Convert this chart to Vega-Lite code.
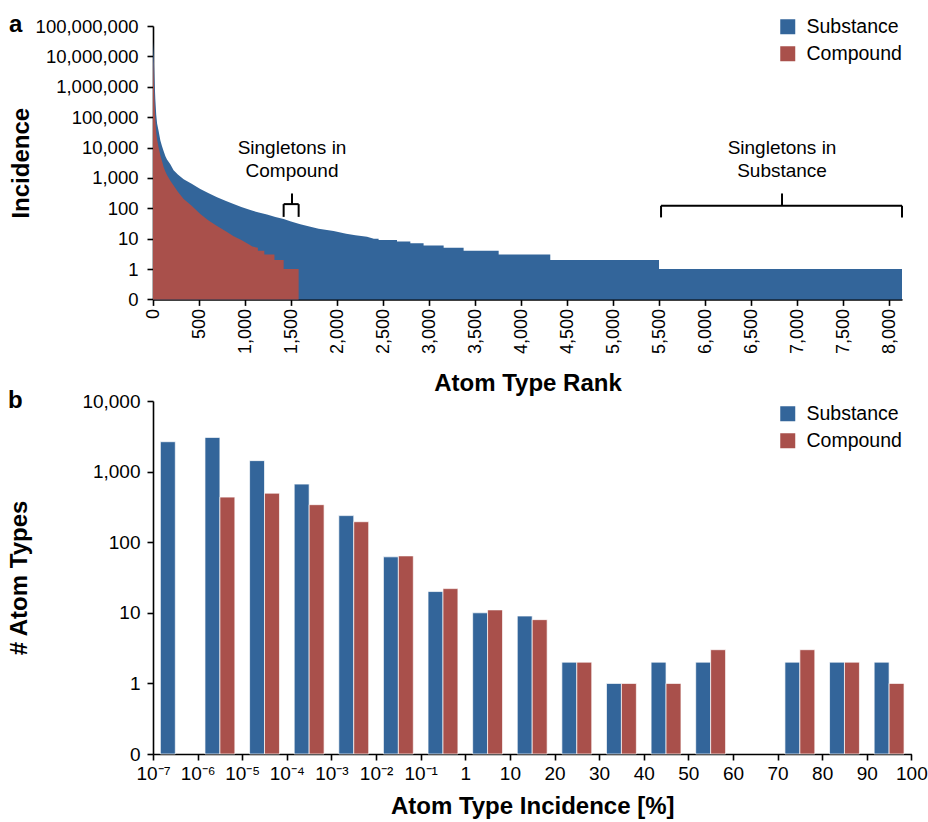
{
  "$schema": "https://vega.github.io/schema/vega-lite/v6.json",
  "padding": {"top": 13, "left": 7, "right": 5, "bottom": 5},
  "background": "white",
  "config": {
    "font": "Liberation Sans",
    "view": {"stroke": null},
    "axis": {
      "domainColor": "black", "domainWidth": 1.6,
      "tickColor": "black", "tickWidth": 1.6, "tickSize": 6,
      "labelColor": "black", "labelFont": "Liberation Sans", "labelFontSize": 18.5,
      "titleFont": "Liberation Sans", "titleFontSize": 24, "titleFontWeight": "bold", "titleColor": "black",
      "grid": false
    },
    "legend": {
      "symbolType": "square", "symbolSize": 225, "symbolStrokeWidth": 0,
      "labelFont": "Liberation Sans", "labelFontSize": 19.5, "labelColor": "black",
      "rowPadding": 6, "labelOffset": 9, "padding": 0
    },
    "title": {"font": "Liberation Sans", "fontSize": 24, "fontWeight": "bold", "color": "black"}
  },
  "datasets": {
    "rank": [
      {"series": "Substance", "rank": 0, "value": 30000000},
      {"series": "Substance", "rank": 8, "value": 10000000},
      {"series": "Substance", "rank": 16, "value": 2000000},
      {"series": "Substance", "rank": 25, "value": 400000},
      {"series": "Substance", "rank": 35, "value": 120000},
      {"series": "Substance", "rank": 45, "value": 60000},
      {"series": "Substance", "rank": 61, "value": 35000},
      {"series": "Substance", "rank": 80, "value": 17000},
      {"series": "Substance", "rank": 98, "value": 11000},
      {"series": "Substance", "rank": 115, "value": 7700},
      {"series": "Substance", "rank": 135, "value": 5200},
      {"series": "Substance", "rank": 152, "value": 4000},
      {"series": "Substance", "rank": 188, "value": 2800},
      {"series": "Substance", "rank": 224, "value": 1800},
      {"series": "Substance", "rank": 270, "value": 1300},
      {"series": "Substance", "rank": 333, "value": 900},
      {"series": "Substance", "rank": 420, "value": 640},
      {"series": "Substance", "rank": 514, "value": 430},
      {"series": "Substance", "rank": 600, "value": 320},
      {"series": "Substance", "rank": 696, "value": 230},
      {"series": "Substance", "rank": 800, "value": 170},
      {"series": "Substance", "rank": 876, "value": 138},
      {"series": "Substance", "rank": 960, "value": 110},
      {"series": "Substance", "rank": 1058, "value": 87},
      {"series": "Substance", "rank": 1150, "value": 72},
      {"series": "Substance", "rank": 1239, "value": 62},
      {"series": "Substance", "rank": 1330, "value": 52},
      {"series": "Substance", "rank": 1420, "value": 44},
      {"series": "Substance", "rank": 1500, "value": 37},
      {"series": "Substance", "rank": 1601, "value": 30},
      {"series": "Substance", "rank": 1700, "value": 25},
      {"series": "Substance", "rank": 1800, "value": 21},
      {"series": "Substance", "rank": 1963, "value": 18},
      {"series": "Substance", "rank": 2100, "value": 14.5},
      {"series": "Substance", "rank": 2200, "value": 13},
      {"series": "Substance", "rank": 2326, "value": 11.5},
      {"series": "Substance", "rank": 2400, "value": 10},
      {"series": "Substance", "rank": 2452, "value": 10},
      {"series": "Substance", "rank": 2452, "value": 9},
      {"series": "Substance", "rank": 2652, "value": 9},
      {"series": "Substance", "rank": 2652, "value": 8},
      {"series": "Substance", "rank": 2797, "value": 8},
      {"series": "Substance", "rank": 2797, "value": 7},
      {"series": "Substance", "rank": 2941, "value": 7},
      {"series": "Substance", "rank": 2941, "value": 6},
      {"series": "Substance", "rank": 3159, "value": 6},
      {"series": "Substance", "rank": 3159, "value": 5},
      {"series": "Substance", "rank": 3376, "value": 5},
      {"series": "Substance", "rank": 3376, "value": 4},
      {"series": "Substance", "rank": 3757, "value": 4},
      {"series": "Substance", "rank": 3757, "value": 3},
      {"series": "Substance", "rank": 4318, "value": 3},
      {"series": "Substance", "rank": 4318, "value": 2},
      {"series": "Substance", "rank": 5500, "value": 2},
      {"series": "Substance", "rank": 5500, "value": 1},
      {"series": "Substance", "rank": 8141, "value": 1},
      {"series": "Compound", "rank": 0, "value": 12000000},
      {"series": "Compound", "rank": 8, "value": 2000000},
      {"series": "Compound", "rank": 16, "value": 300000},
      {"series": "Compound", "rank": 25, "value": 80000},
      {"series": "Compound", "rank": 35, "value": 30000},
      {"series": "Compound", "rank": 45, "value": 18000},
      {"series": "Compound", "rank": 61, "value": 10000},
      {"series": "Compound", "rank": 80, "value": 5500},
      {"series": "Compound", "rank": 98, "value": 3500},
      {"series": "Compound", "rank": 115, "value": 2300},
      {"series": "Compound", "rank": 135, "value": 1600},
      {"series": "Compound", "rank": 152, "value": 1250},
      {"series": "Compound", "rank": 188, "value": 800},
      {"series": "Compound", "rank": 224, "value": 560},
      {"series": "Compound", "rank": 270, "value": 350},
      {"series": "Compound", "rank": 333, "value": 200},
      {"series": "Compound", "rank": 420, "value": 120},
      {"series": "Compound", "rank": 514, "value": 65},
      {"series": "Compound", "rank": 600, "value": 40},
      {"series": "Compound", "rank": 696, "value": 26},
      {"series": "Compound", "rank": 800, "value": 17},
      {"series": "Compound", "rank": 876, "value": 12},
      {"series": "Compound", "rank": 960, "value": 9},
      {"series": "Compound", "rank": 1040, "value": 6.5},
      {"series": "Compound", "rank": 1080, "value": 5.5},
      {"series": "Compound", "rank": 1140, "value": 5},
      {"series": "Compound", "rank": 1140, "value": 4},
      {"series": "Compound", "rank": 1210, "value": 4},
      {"series": "Compound", "rank": 1210, "value": 3},
      {"series": "Compound", "rank": 1320, "value": 3},
      {"series": "Compound", "rank": 1320, "value": 2},
      {"series": "Compound", "rank": 1420, "value": 2},
      {"series": "Compound", "rank": 1420, "value": 1},
      {"series": "Compound", "rank": 1583, "value": 1}
    ],
    "brace": [
      {"rank": 1420, "rank2": 1583, "value": 137, "value2": 137},
      {"rank": 1420, "rank2": 1420, "value": 52, "value2": 137},
      {"rank": 1583, "rank2": 1583, "value": 52, "value2": 137},
      {"rank": 1511, "rank2": 1511, "value": 137, "value2": 307},
      {"rank": 5522, "rank2": 8141, "value": 121, "value2": 121},
      {"rank": 5522, "rank2": 5522, "value": 50, "value2": 121},
      {"rank": 8141, "rank2": 8141, "value": 50, "value2": 121},
      {"rank": 6837, "rank2": 6837, "value": 121, "value2": 307}
    ],
    "notes": [
      {"text": "Singletons in\nCompound", "rank": 1511, "value": 10000},
      {"text": "Singletons in\nSubstance", "rank": 6837, "value": 10000}
    ],
    "hist": [
      {"bin": 0, "series": "Substance", "count": 2650},
      {"bin": 1, "series": "Substance", "count": 3050},
      {"bin": 1, "series": "Compound", "count": 435},
      {"bin": 2, "series": "Substance", "count": 1430},
      {"bin": 2, "series": "Compound", "count": 495},
      {"bin": 3, "series": "Substance", "count": 665},
      {"bin": 3, "series": "Compound", "count": 340},
      {"bin": 4, "series": "Substance", "count": 238},
      {"bin": 4, "series": "Compound", "count": 195},
      {"bin": 5, "series": "Substance", "count": 62},
      {"bin": 5, "series": "Compound", "count": 64},
      {"bin": 6, "series": "Substance", "count": 20},
      {"bin": 6, "series": "Compound", "count": 22},
      {"bin": 7, "series": "Substance", "count": 10},
      {"bin": 7, "series": "Compound", "count": 11},
      {"bin": 8, "series": "Substance", "count": 9},
      {"bin": 8, "series": "Compound", "count": 8},
      {"bin": 9, "series": "Substance", "count": 2},
      {"bin": 9, "series": "Compound", "count": 2},
      {"bin": 10, "series": "Substance", "count": 1},
      {"bin": 10, "series": "Compound", "count": 1},
      {"bin": 11, "series": "Substance", "count": 2},
      {"bin": 11, "series": "Compound", "count": 1},
      {"bin": 12, "series": "Substance", "count": 2},
      {"bin": 12, "series": "Compound", "count": 3},
      {"bin": 14, "series": "Substance", "count": 2},
      {"bin": 14, "series": "Compound", "count": 3},
      {"bin": 15, "series": "Substance", "count": 2},
      {"bin": 15, "series": "Compound", "count": 2},
      {"bin": 16, "series": "Substance", "count": 2},
      {"bin": 16, "series": "Compound", "count": 1}
    ]
  },
  "resolve": {"legend": {"color": "independent"}, "scale": {"color": "independent"}},
  "spacing": -7,
  "vconcat": [
    {
      "width": 749,
      "height": 273.4,
      "title": {"text": "a", "anchor": "start", "frame": "bounds", "baseline": "alphabetic", "offset": -39},
      "encoding": {
        "x": {
          "field": "rank", "type": "quantitative",
          "scale": {"domain": [0, 8141], "nice": false, "zero": false},
          "axis": {
            "title": "Atom Type Rank",
            "values": [0, 500, 1000, 1500, 2000, 2500, 3000, 3500, 4000, 4500, 5000, 5500, 6000, 6500, 7000, 7500, 8000],
            "labelExpr": "format(datum.value, ',')", "labelFontSize": 18, "labelAngle": -90, "labelPadding": 3, "titlePadding": 18, "labelFlush": false, "labelOverlap": false
          }
        },
        "y": {
          "field": "value", "type": "quantitative",
          "scale": {"type": "log", "domain": [0.1, 100000000], "nice": false},
          "axis": {
            "title": "Incidence",
            "values": [0.1, 1, 10, 100, 1000, 10000, 100000, 1000000, 10000000, 100000000],
            "labelExpr": "datum.value < 0.5 ? '0' : format(datum.value, ',')",
            "labelPadding": 9, "titlePadding": 2, "labelFlush": false, "labelOverlap": false
          }
        }
      },
      "layer": [
        {
          "data": {"name": "rank"},
          "transform": [{"filter": "datum.series === 'Substance'"}],
          "mark": {"type": "area", "interpolate": "linear"},
          "encoding": {
            "y2": {"datum": 0.1},
            "color": {
              "field": "series", "type": "nominal",
              "scale": {"domain": ["Substance", "Compound"], "range": ["#33659A", "#A9504B"]},
              "legend": {"title": null, "orient": "none", "legendX": 625, "legendY": -9}
            }
          }
        },
        {
          "data": {"name": "rank"},
          "transform": [{"filter": "datum.series === 'Compound'"}],
          "mark": {"type": "area", "interpolate": "linear"},
          "encoding": {
            "y2": {"datum": 0.1},
            "color": {
              "field": "series", "type": "nominal",
              "scale": {"domain": ["Substance", "Compound"], "range": ["#33659A", "#A9504B"]},
              "legend": {"title": null, "orient": "none", "legendX": 625, "legendY": -9}
            }
          }
        },
        {
          "data": {"name": "brace"},
          "mark": {"type": "rule", "color": "black", "strokeWidth": 2},
          "encoding": {
            "x2": {"field": "rank2"},
            "y2": {"field": "value2"}
          }
        },
        {
          "data": {"name": "notes"},
          "mark": {"type": "text", "lineBreak": "\n", "fontSize": 19, "lineHeight": 23.3, "align": "center", "baseline": "middle", "color": "black"},
          "encoding": {"text": {"field": "text"}}
        }
      ]
    },
    {
      "width": 758.4,
      "height": 353,
      "title": {"text": "b", "anchor": "start", "frame": "bounds", "baseline": "alphabetic", "offset": -40},
      "data": {"name": "hist"},
      "layer": [
        {
          "mark": {"type": "bar", "stroke": "white", "strokeWidth": 0.7},
          "encoding": {
            "x": {
              "field": "bin", "type": "ordinal",
              "scale": {"domain": [0, 1, 2, 3, 4, 5, 6, 7, 8, 9, 10, 11, 12, 13, 14, 15, 16], "paddingInner": 0.33, "paddingOuter": 0.165},
              "axis": null
            },
            "xOffset": {"field": "series", "type": "nominal", "scale": {"domain": ["Substance", "Compound"]}},
            "y": {
              "field": "count", "type": "quantitative",
              "scale": {"type": "log", "domain": [0.1, 10000], "nice": false},
              "axis": {
                "title": "# Atom Types",
                "values": [0.1, 1, 10, 100, 1000, 10000],
                "labelExpr": "datum.value < 0.5 ? '0' : format(datum.value, ',')",
                "labelFontSize": 19, "labelPadding": 7, "titlePadding": 50, "labelFlush": false
              }
            },
            "y2": {"datum": 0.1},
            "color": {
              "field": "series", "type": "nominal",
              "scale": {"domain": ["Substance", "Compound"], "range": ["#33659A", "#A9504B"]},
              "legend": {"title": null, "orient": "none", "legendX": 625, "legendY": 3}
            }
          }
        },
        {
          "mark": {"type": "point", "opacity": 0},
          "encoding": {
            "x": {
              "field": "bin", "type": "quantitative",
              "scale": {"domain": [0, 17], "nice": false, "zero": false},
              "axis": {
                "title": "Atom Type Incidence [%]",
                "values": [0, 1, 2, 3, 4, 5, 6, 7, 8, 9, 10, 11, 12, 13, 14, 15, 16, 17],
                "labelExpr": "['10⁻⁷','10⁻⁶','10⁻⁵','10⁻⁴','10⁻³','10⁻²','10⁻¹','1','10','20','30','40','50','60','70','80','90','100'][datum.value]",
                "labelFontSize": 19, "labelPadding": 4, "titlePadding": 11, "labelFlush": false, "labelOverlap": false
              }
            }
          }
        }
      ],
      "resolve": {"scale": {"x": "independent"}}
    }
  ]
}
